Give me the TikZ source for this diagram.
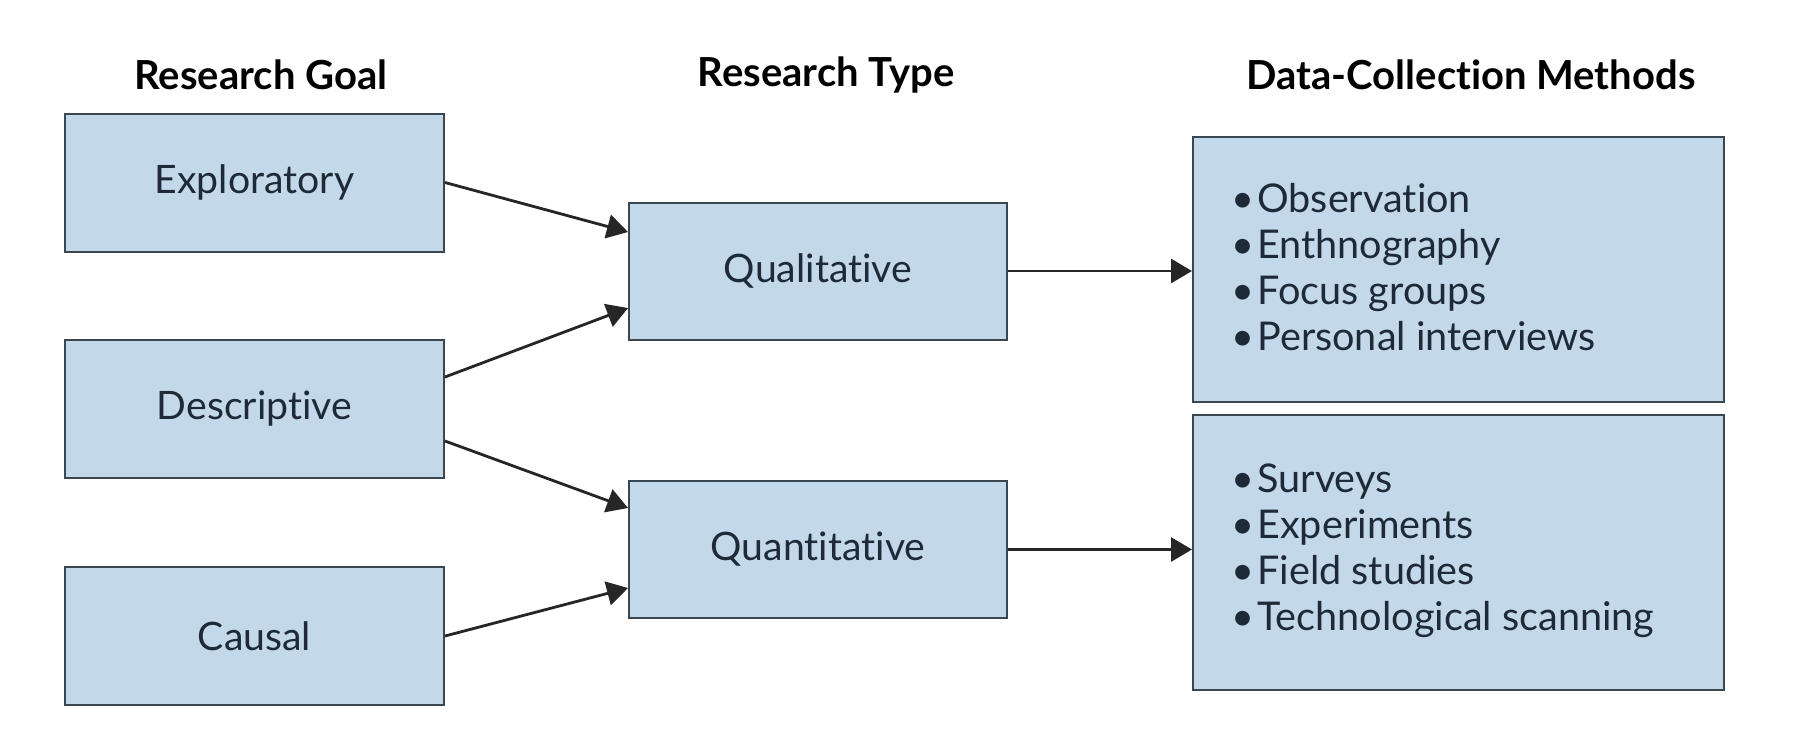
\documentclass[tikz,border=0pt]{standalone}
\usepackage{fontspec}
\setmainfont[Ligatures=NoCommon]{Lato}
\usetikzlibrary{arrows.meta,calc}
\definecolor{boxfill}{HTML}{C3D9EA}
\definecolor{boxline}{HTML}{3A4650}
\definecolor{txt}{HTML}{1E2A38}
\definecolor{arr}{HTML}{262626}
\begin{document}
\begin{tikzpicture}[x=0.5pt,y=-0.5pt,
  box/.style={draw=boxline,line width=1pt,fill=boxfill,text=txt,inner sep=0pt,
    font=\fontsize{19.6}{23}\selectfont},
  goalbox/.style={box,minimum width=189.5pt,minimum height=69pt},
  typebox/.style={box,minimum width=189pt,minimum height=68.5pt},
  methbox/.style={box,minimum width=265.5pt},
  title/.style={font=\fontsize{20}{24}\selectfont\bfseries,text=black,inner sep=0pt},
  list/.style={align=left,text=txt,inner sep=0pt,font=\fontsize{19.8}{23}\selectfont},
  conn/.style={draw=arr,line width=1.4pt,-{Triangle[length=10.5pt,width=12pt]}}]
\useasboundingbox (0,0) rectangle (1794,752);
\fill[white] (0,0) rectangle (1794,752);
\node[title] (t1) at (261,75) {Research Goal};
\node[title] (t2) at (826,75) {Research Type};
\node[title] (t3) at (1471,75) {Data-Collection Methods};
\node[goalbox] (expl) at (254.5,182.5) {Exploratory};
\node[goalbox] (desc) at (254.5,408.5) {Descriptive};
\node[goalbox] (caus) at (254.5,636) {Causal};
\node[typebox] (qual) at (818,271) {Qualitative};
\node[typebox] (quan) at (818,549.5) {Quantitative};
\node[methbox,minimum height=132.5pt] (mtop) at (1458.5,269.5) {};
\node[methbox,minimum height=137.5pt] (mbot) at (1458.5,552.5) {};
\node[list,anchor=west] (ltop) at (1231,267) {\textbullet\kern1.5pt Observation\\ \textbullet\kern1.5pt Enthnography\\ \textbullet\kern1.5pt Focus groups\\ \textbullet\kern1.5pt Personal interviews};
\node[list,anchor=west] (lbot) at (1231,551) {\textbullet\kern1.5pt Surveys\\ \textbullet\kern1.5pt Experiments\\ \textbullet\kern1.5pt Field studies\\ \textbullet\kern1.5pt Technological scanning};
\draw[conn] (expl.east) -- ([yshift=19.5pt]qual.west);
\draw[conn] ([yshift=15.75pt]desc.east) -- ([yshift=-18.5pt]qual.west);
\draw[conn] ([yshift=-16.25pt]desc.east) -- ([yshift=20.75pt]quan.west);
\draw[conn] (caus.east) -- ([yshift=-19.25pt]quan.west);
\draw[conn] (qual.east) -- (qual.east -| mtop.west);
\draw[conn] (quan.east) -- (quan.east -| mbot.west);
\end{tikzpicture}
\end{document}
